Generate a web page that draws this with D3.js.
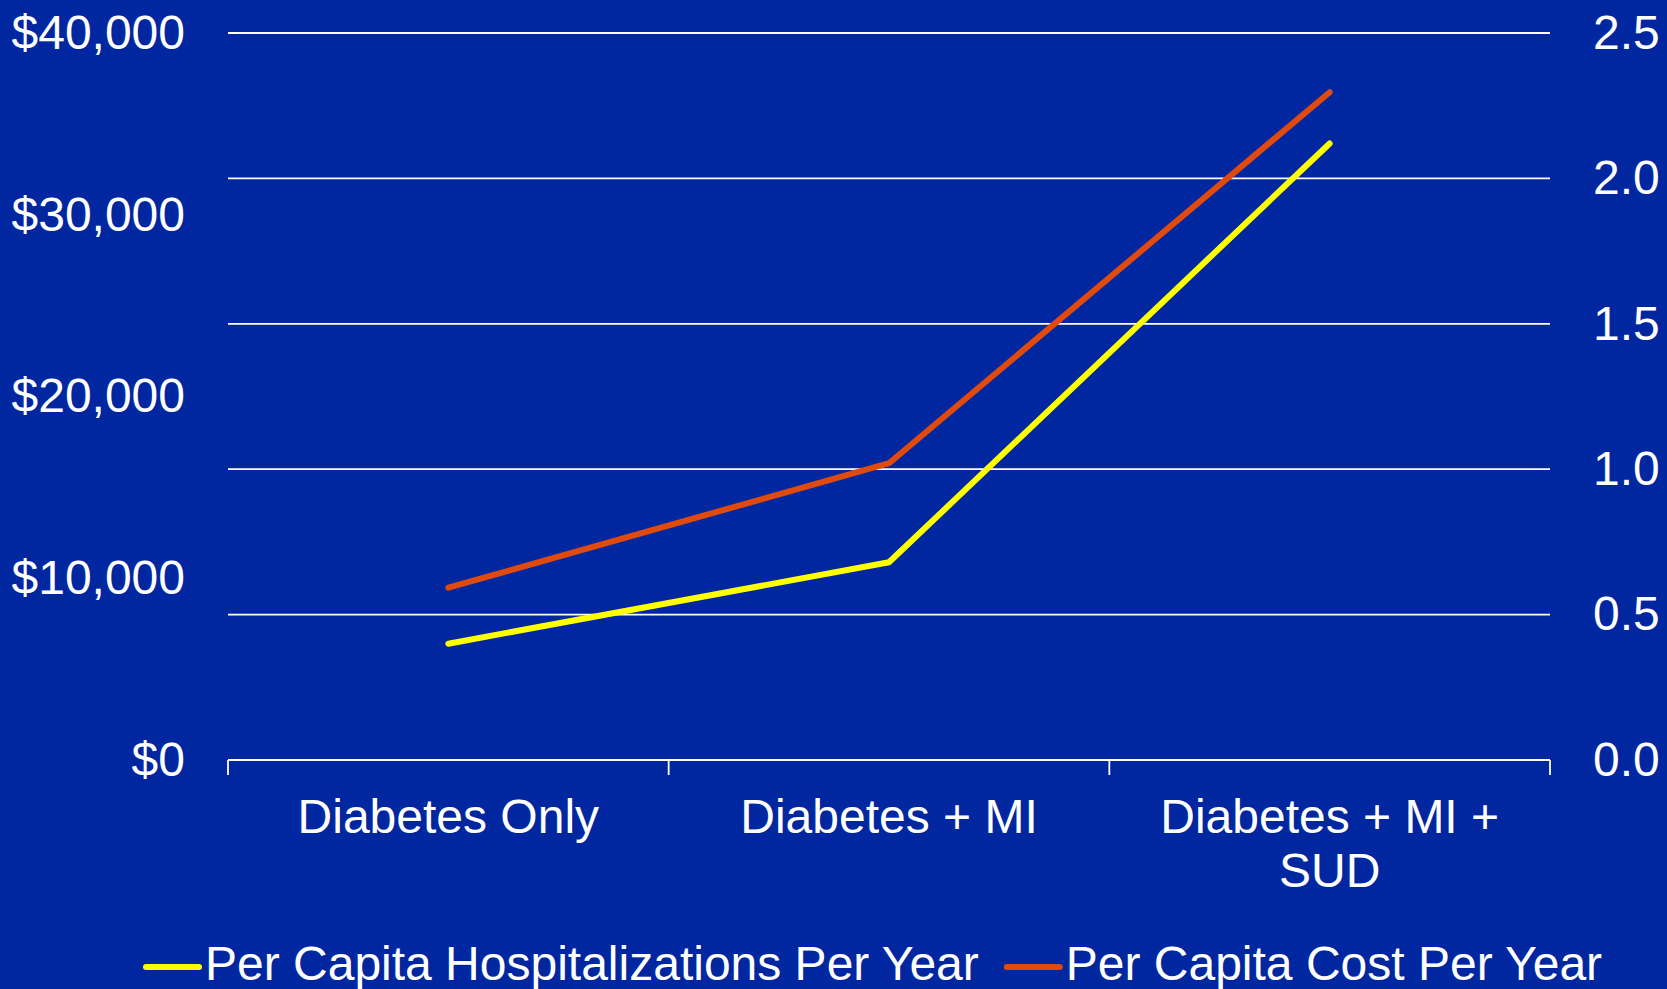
<!DOCTYPE html>
<html>
<head>
<meta charset="utf-8">
<script src="https://cdn.jsdelivr.net/npm/d3@7"></script>
<style>
  html, body { margin: 0; padding: 0; background: #0027A0; }
  svg { display: block; }
  text { font-family: "Liberation Sans", Arial, sans-serif; fill: #fff; }
</style>
</head>
<body>
<script>
var width = 1667, height = 989;

// data
var categories = ["Diabetes Only", "Diabetes + MI", "Diabetes + MI + SUD"];
var categoryLines = [["Diabetes Only"], ["Diabetes + MI"], ["Diabetes + MI +", "SUD"]];
var hospitalizations = [0.40, 0.68, 2.12];
var costs = [9480, 16330, 36740];
var leftTicks = [0, 10000, 20000, 30000, 40000];
var rightTicks = [0, 0.5, 1.0, 1.5, 2.0, 2.5];
var seriesNames = ["Per Capita Hospitalizations Per Year", "Per Capita Cost Per Year"];
var seriesColors = ["#FFFF00", "#E04A0C"];

var fontSize = "48px";
var plotLeft = 228, plotRight = 1550, plotTop = 33, plotBottom = 760;

var svg = d3.select("body")
    .append("svg")
    .attr("width", width)
    .attr("height", height);

svg.append("rect").attr("width", width).attr("height", height).attr("fill", "#0027A0");

var xScale = d3.scaleBand().domain(categories).range([plotLeft, plotRight]).padding(0),
    yLeft = d3.scaleLinear().domain([0, 40000]).range([plotBottom, plotTop]),
    yRight = d3.scaleLinear().domain([0, 2.5]).range([plotBottom, plotTop]);

// gridlines (right axis)
svg.append("g").selectAll("line")
    .data(rightTicks.slice(1))
    .enter().append("line")
    .attr("x1", plotLeft).attr("x2", plotRight)
    .attr("y1", function(d) { return yRight(d); })
    .attr("y2", function(d) { return yRight(d); })
    .attr("stroke", "#fff")
    .attr("stroke-width", 1.8);

// baseline + ticks between categories
svg.append("line")
    .attr("x1", plotLeft).attr("x2", plotRight)
    .attr("y1", plotBottom).attr("y2", plotBottom)
    .attr("stroke", "#fff").attr("stroke-width", 1.8);

var bounds = categories.map(function(c) { return xScale(c); }).concat([plotRight]);
svg.append("g").selectAll("line")
    .data(bounds)
    .enter().append("line")
    .attr("x1", function(d) { return d; })
    .attr("x2", function(d) { return d; })
    .attr("y1", plotBottom).attr("y2", plotBottom + 15)
    .attr("stroke", "#fff").attr("stroke-width", 1.8);

// category labels
var cat = svg.append("g").selectAll("text")
    .data(categories)
    .enter().append("text")
    .attr("text-anchor", "middle")
    .style("font-size", fontSize)
    .attr("x", function(d) { return xScale(d) + xScale.bandwidth() / 2; })
    .attr("y", 833);

cat.each(function(d, i) {
    var t = d3.select(this);
    categoryLines[i].forEach(function(line, j) {
        t.append("tspan")
            .attr("x", xScale(d) + xScale.bandwidth() / 2)
            .attr("dy", j == 0 ? 0 : 54)
            .text(line);
    });
});

// left axis
var leftAxis = svg.append("g")
    .attr("transform", "translate(" + plotLeft + ",0)")
    .call(d3.axisLeft(yLeft).tickValues(leftTicks).tickSize(0).tickPadding(43)
        .tickFormat(function(d) { return "$" + d3.format(",")(d); }));
leftAxis.select(".domain").remove();
leftAxis.selectAll("text").style("font-size", fontSize).attr("fill", "#fff")
    .style("font-family", "Liberation Sans, Arial, sans-serif");

// right axis
var rightAxis = svg.append("g")
    .attr("transform", "translate(" + plotRight + ",0)")
    .call(d3.axisRight(yRight).tickValues(rightTicks).tickSize(0).tickPadding(43)
        .tickFormat(d3.format(".1f")));
rightAxis.select(".domain").remove();
rightAxis.selectAll("text").style("font-size", fontSize).attr("fill", "#fff")
    .style("font-family", "Liberation Sans, Arial, sans-serif");

// lines
function xPos(i) { return xScale(categories[i]) + xScale.bandwidth() / 2; }

var hospLine = d3.line()
    .x(function(d, i) { return xPos(i); })
    .y(function(d) { return yRight(d); });
var costLine = d3.line()
    .x(function(d, i) { return xPos(i); })
    .y(function(d) { return yLeft(d); });

svg.append("path")
    .datum(hospitalizations)
    .attr("d", hospLine)
    .attr("fill", "none")
    .attr("stroke", seriesColors[0])
    .attr("stroke-width", 6)
    .attr("stroke-linecap", "round")
    .attr("stroke-linejoin", "round");

svg.append("path")
    .datum(costs)
    .attr("d", costLine)
    .attr("fill", "none")
    .attr("stroke", seriesColors[1])
    .attr("stroke-width", 6)
    .attr("stroke-linecap", "round")
    .attr("stroke-linejoin", "round");

// legend
var lx = 146;
seriesNames.forEach(function(name, i) {
    var g = svg.append("g");
    g.append("line")
        .attr("x1", lx).attr("x2", lx + 53)
        .attr("y1", 967).attr("y2", 967)
        .attr("stroke", seriesColors[i])
        .attr("stroke-width", 6)
        .attr("stroke-linecap", "round");
    var t = g.append("text")
        .attr("x", lx + 59)
        .attr("y", 980)
        .style("font-size", fontSize)
        .text(name);
    lx = lx + 59 + t.node().getComputedTextLength() + 28;
});
</script>
</body>
</html>
